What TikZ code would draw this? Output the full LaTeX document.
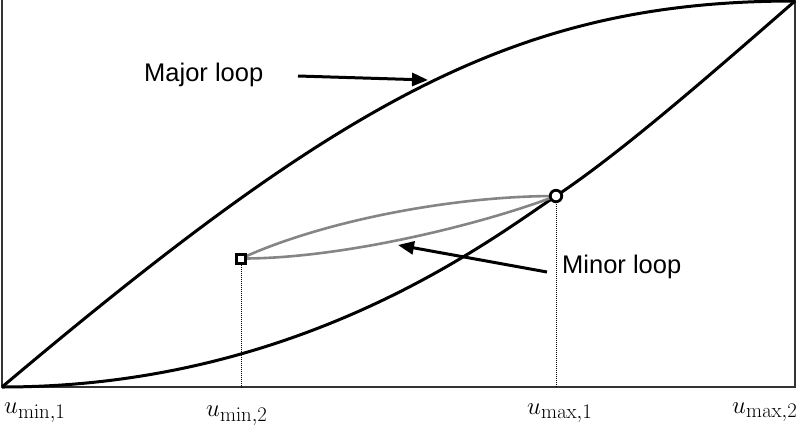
\documentclass[tikz,border=0pt]{standalone}
\usepackage[no-math]{fontspec}
\newfontfamily\arialf{Liberation Sans}
\usetikzlibrary{arrows.meta}
\begin{document}
\begin{tikzpicture}[x=1pt,y=-1pt,
  frame/.style={line width=1.3pt, draw=black!80},
  bigcurve/.style={line width=3pt, black},
  minorcurve/.style={line width=2.6pt, black!48},
  guide/.style={line width=1pt, densely dotted, black},
  pointer/.style={line width=3pt, -{Triangle[length=16pt,width=13pt]}},
  lbl/.style={font=\arialf\fontsize{25.5}{30}\selectfont, inner sep=0pt, anchor=base west},
  ulbl/.style={font=\fontsize{28}{33}\selectfont, inner sep=0pt, anchor=base west},
  sqmark/.style={draw, line width=3pt, fill=white, rectangle, minimum size=9pt, inner sep=0pt},
  cimark/.style={draw, line width=2.8pt, fill=white, circle, minimum size=11.5pt, inner sep=0pt}]
\useasboundingbox (0,0) rectangle (796,426);
% frame
\coordinate (TL) at (2,0);
\coordinate (O) at (2,387);
\coordinate (BR) at (795,387);
\coordinate (TR) at (795,0);
\draw[frame] (TL) -- (O) -- (BR) -- (TR);
% key points
\coordinate (T) at (795,1);
\coordinate (S) at (241,258.5);
\coordinate (C) at (556,196);
\coordinate (Sb) at (241,387);
\coordinate (Cb) at (556,387);
% dotted guides
\draw[guide] (S) -- (Sb);
\draw[guide] (C) -- (Cb);
% major loop
\draw[bigcurve] (O) .. controls (346,97) and (520,1) .. (T);
\draw[bigcurve] (O) .. controls (300,387) and (490,240) .. (C)
                    .. controls (622,152) and (710,75) .. (T);
% minor loop
\draw[minorcurve] (S) .. controls (320,222) and (450,196) .. (C);
\draw[minorcurve] (S) .. controls (340,259) and (480,225) .. (C);
% markers
\node[sqmark] (sq) at (S) {};
\node[cimark] (ci) at (C) {};
% labels and pointers
\node[lbl] (major) at (144,81) {Major loop};
\node[lbl] (minor) at (562,273) {Minor loop};
\coordinate (majtail) at (298,76);
\coordinate (majtip) at (428,80);
\coordinate (mintail) at (547,272);
\coordinate (mintip) at (398,245);
\draw[pointer] (majtail) -- (majtip);
\draw[pointer] (mintail) -- (mintip);
\node[ulbl] (u1) at (4,413) {$u_{\min,1}$};
\node[ulbl] (u2) at (206,416) {$u_{\min,2}$};
\node[ulbl] (u3) at (527,414) {$u_{\max,1}$};
\node[ulbl] (u4) at (732,413) {$u_{\max,2}$};
\end{tikzpicture}
\end{document}
